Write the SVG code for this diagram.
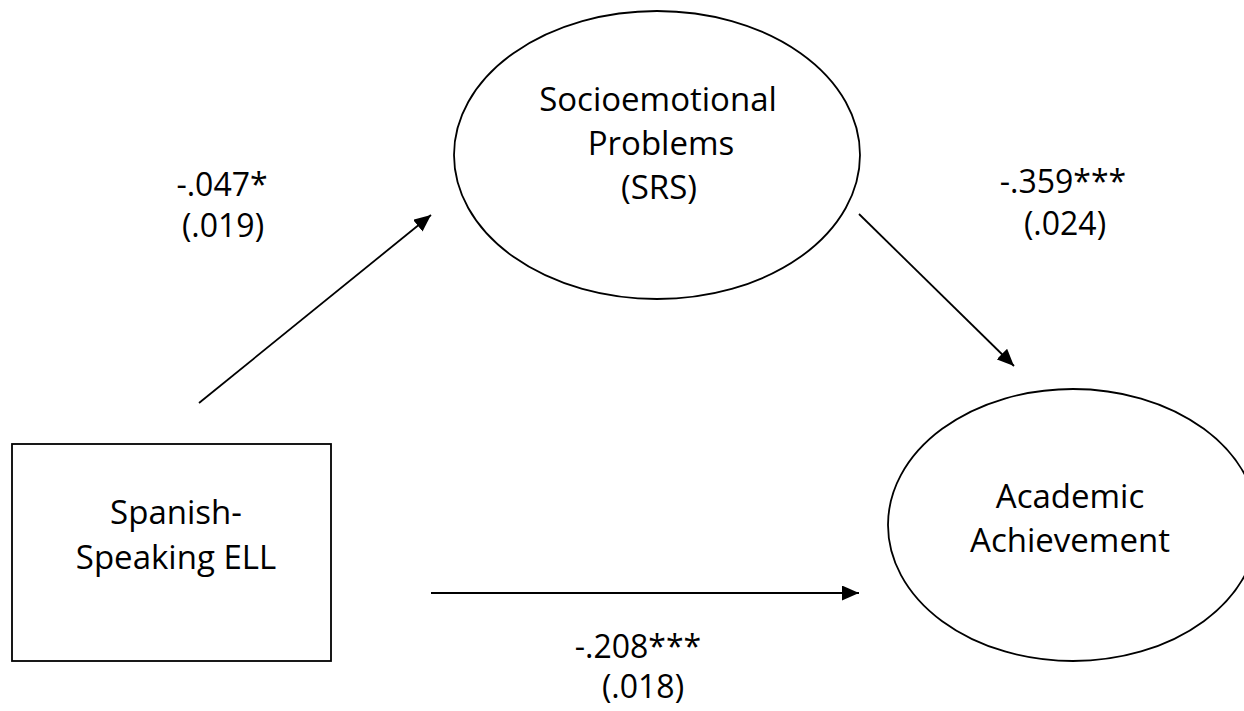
<svg xmlns="http://www.w3.org/2000/svg" width="1244" height="711" viewBox="0 0 1244 711">
<style>
.node{fill:#fff;stroke:#000;stroke-width:1.8}
.lbl{font-family:"Open Sans","Noto Sans",sans-serif;font-size:33px;fill:#000;text-anchor:middle}
.coef{font-family:"Open Sans","Noto Sans",sans-serif;font-size:32px;fill:#000;text-anchor:middle}
.conn{stroke:#000;stroke-width:1.8;fill:none;marker-end:url(#arrow)}
</style>
<defs>
<marker id="arrow" viewBox="0 0 17 15" refX="17" refY="7.5" markerWidth="17" markerHeight="15" markerUnits="userSpaceOnUse" orient="auto">
<path d="M0,0 L17,7.5 L0,15 z" fill="#000"/>
</marker>
</defs>
<rect width="1244" height="711" fill="#fff"/>
<g id="node-srs">
<ellipse class="node" cx="657" cy="155" rx="203" ry="144"/>
<text class="lbl" x="658" y="111">Socioemotional</text>
<text class="lbl" x="661" y="155">Problems</text>
<text class="lbl" x="659" y="199">(SRS)</text>
</g>
<g id="node-achievement">
<ellipse class="node" cx="1073" cy="525" rx="185" ry="136"/>
<text class="lbl" x="1070" y="508">Academic</text>
<text class="lbl" x="1070" y="552">Achievement</text>
</g>
<g id="node-ell">
<rect class="node" x="12" y="444" width="319" height="217"/>
<text class="lbl" x="176" y="524">Spanish-</text>
<text class="lbl" x="176" y="569">Speaking ELL</text>
</g>
<g id="connectors">
<line class="conn" x1="199" y1="403" x2="431" y2="215"/>
<line class="conn" x1="859" y1="214" x2="1014" y2="366"/>
<line class="conn" x1="431" y1="593" x2="859" y2="593"/>
</g>
<g id="labels">
<text class="coef" x="222" y="196">-.047*</text>
<text class="coef" x="223" y="237">(.019)</text>
<text class="coef" x="1063" y="193">-.359***</text>
<text class="coef" x="1065" y="235">(.024)</text>
<text class="coef" x="638" y="658">-.208***</text>
<text class="coef" x="643" y="698">(.018)</text>
</g>
</svg>
